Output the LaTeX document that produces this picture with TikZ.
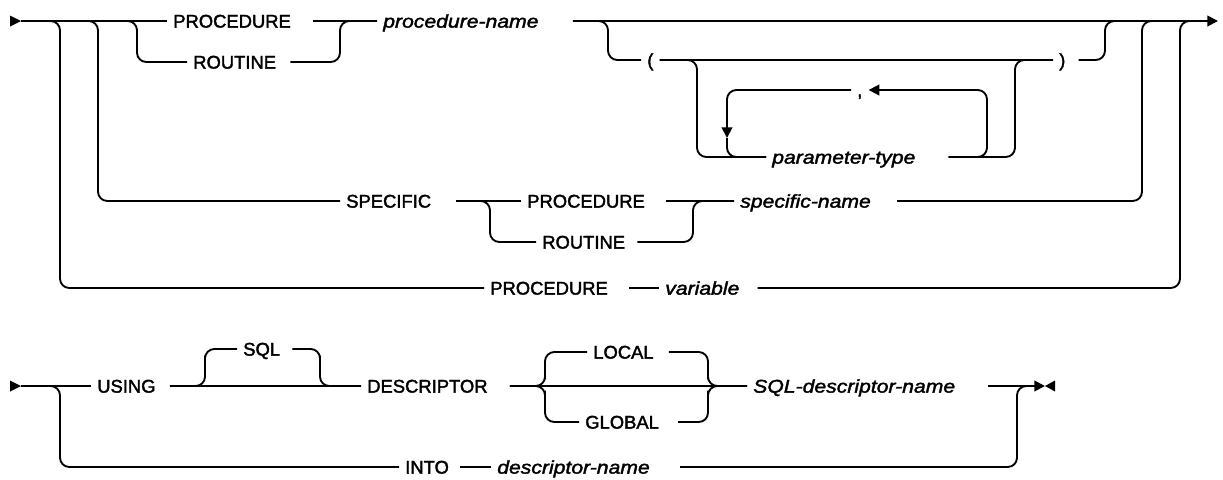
\documentclass[tikz,border=0pt]{standalone}
\usepackage{fontspec}
\setmainfont{Liberation Sans}[FakeBold=2]
\newfontfamily\varfont{Liberation Sans}[FakeStretch=1.15,FakeBold=2]
\usepackage{tikz}
\usetikzlibrary{arrows.meta}
\newlength\pxu
\setlength\pxu{0.75pt}

\begin{document}
\begin{tikzpicture}[x=0.75pt,y=-0.75pt,>={Triangle[length=8pt,width=8pt]},
  rail/.style={line width=1.4pt,rounded corners=7pt},
  kw/.style={anchor=west,inner xsep=6\pxu,inner ysep=0pt,text height=9.9pt,text depth=0pt,font=\fontsize{13.8pt}{16pt}\selectfont},
  var/.style={kw,font=\fontsize{13.8pt}{16pt}\selectfont\varfont\itshape},
  tailgap/.style={execute at end node={\hspace*{#1\pxu}}}]
\useasboundingbox (0,0) rectangle (1223,479);
\coordinate (s1) at (21,21);
\coordinate (j1) at (1200,21);
\coordinate (e1) at (1218,21);
\coordinate (dn) at (727,138);
\node[kw,tailgap=16] (prA) at (167,21) {PROCEDURE};
\node[kw,tailgap=8] (rtA) at (187,62) {ROUTINE};
\node[var,tailgap=28] (pnm) at (377,21) {procedure-name};
\node[kw] (lp) at (641,60) {(};
\node[kw,tailgap=7] (rp) at (1053,60) {)};
\node[var,tailgap=27] (par) at (766,157) {parameter-type};
\node[kw] (cm) at (851,90) {,};
\node[kw,tailgap=19] (spc) at (340,201) {SPECIFIC};
\node[kw,tailgap=15] (prB) at (521,201) {PROCEDURE};
\node[kw,tailgap=6] (rtB) at (536,242) {ROUTINE};
\node[var,tailgap=20] (snm) at (734,201) {specific-name};
\node[kw,tailgap=15] (prC) at (484,288) {PROCEDURE};
\node[var,tailgap=12] (vr) at (659,288) {variable};
\fill (s1) -- ++(-11,-5.5) -- ++(0,11) -- cycle;
\draw[rail] (s1) -- (prA.west);
\draw[rail] (prA.east) -- (pnm.west);
\draw[rail,->] (pnm.east) -- (e1);
\draw[rail] (s1) -| (137,40) |- (rtA.west);
\draw[rail] (rtA.east) -| (340,40) |- (pnm.west);
\draw[rail] (pnm.east) -| (608,40) |- (lp.west);
\draw[rail] (lp.east) -- (rp.west);
\draw[rail] (rp.east) -| (1105,40) |- (j1);
\draw[rail] (lp.east) -| (697,100) |- (par.west);
\draw[rail] (par.east) -| (1015,100) |- (rp.west);
\draw[rail,->] (par.east) -| (987,120) |- (cm.east);
\draw[rail,->] (cm.west) -| (dn);
\draw[rail] (dn) |- (par.west);
\draw[rail] (s1) -| (98,100) |- (spc.west);
\draw[rail] (spc.east) -- (prB.west);
\draw[rail] (spc.east) -| (490,220) |- (rtB.west);
\draw[rail] (prB.east) -- (snm.west);
\draw[rail] (rtB.east) -| (693,220) |- (snm.west);
\draw[rail] (snm.east) -| (1142,100) |- (j1);
\draw[rail] (s1) -| (60,150) |- (prC.west);
\draw[rail] (prC.east) -- (vr.west);
\draw[rail] (vr.east) -| (1180,150) |- (j1);

\coordinate (s2) at (21,386);
\coordinate (j2) at (1030,386);
\coordinate (e2) at (1045,386);
\node[kw,tailgap=8] (us) at (91,386) {USING};
\node[kw,tailgap=6] (sql) at (237,349) {SQL};
\node[kw,tailgap=16] (dsc) at (361,386) {DESCRIPTOR};
\node[kw,tailgap=9] (lc) at (587,352) {LOCAL};
\node[kw,tailgap=13] (gl) at (579,422) {GLOBAL};
\node[var,tailgap=27] (sdn) at (747,386) {SQL-descriptor-name};
\node[kw,tailgap=5] (into) at (399,467) {INTO};
\node[var,tailgap=24] (dnm) at (491,467) {descriptor-name};
\fill (s2) -- ++(-11,-5.5) -- ++(0,11) -- cycle;
\draw[rail] (s2) -- (us.west);
\draw[rail] (us.east) -- (dsc.west);
\draw[rail] (us.east) -| (205,365) |- (sql.west);
\draw[rail] (sql.east) -| (320,365) |- (dsc.west);
\draw[rail] (dsc.east) -- (sdn.west);
\draw[rail] (dsc.east) -| (545,370) |- (lc.west);
\draw[rail] (dsc.east) -| (545,400) |- (gl.west);
\draw[rail] (lc.east) -| (708,370) |- (sdn.west);
\draw[rail] (gl.east) -| (708,400) |- (sdn.west);
\draw[rail,->] (sdn.east) -- (e2);
\fill (e2) -- ++(10,-5.5) -- ++(0,11) -- cycle;
\draw[rail] (s2) -| (60,420) |- (into.west);
\draw[rail] (into.east) -- (dnm.west);
\draw[rail] (dnm.east) -| (1017,420) |- (j2);
\end{tikzpicture}
\end{document}
